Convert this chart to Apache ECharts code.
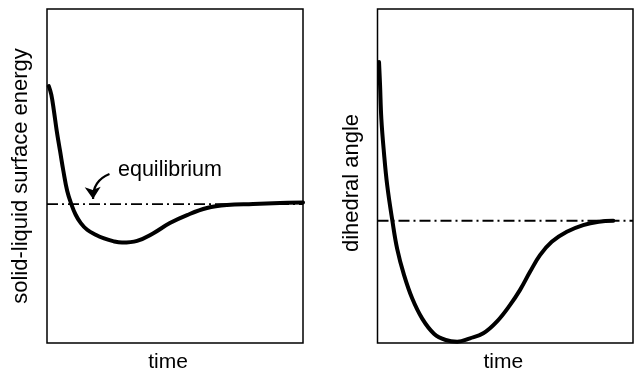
<!DOCTYPE html>
<html>
<head>
<meta charset="utf-8">
<script src="https://cdn.jsdelivr.net/npm/echarts@6/dist/echarts.min.js"></script>
<style>html,body{margin:0;padding:0;background:#fff}#c{width:635px;height:372px}</style>
</head>
<body>
<div id="c"></div>
<script>
// Left panel: solid-liquid surface energy vs time
const leftTime = [0.7,1.7,2.7,3.8,5.1,6.4,7.9,9.5,11.2,13.2,15.7,19.0,22.3,25.8,29.3,35.2,41.4,48.0,54.7,62.5,70.3,80.5,91.0,100];
const leftEnergy = [76.9,74.3,69.5,63.5,57.5,51.5,45.5,41.6,38.4,35.9,33.9,32.4,31.3,30.5,30.1,30.6,32.8,35.9,38.3,40.4,41.3,41.6,41.9,42.1];
const leftEquilibrium = 41.6;

// Right panel: dihedral angle vs time
const rightTime = [0.6,1.0,1.5,2.5,3.8,5.8,7.7,10.4,13.6,17.5,22.1,26.7,31.2,36.2,41.4,46.7,51.9,55.8,59.7,63.6,68.2,74.1,80.5,86.6,92.3];
const rightAngle = [84.1,77.2,67.2,57.2,47.2,36.7,28.2,20.3,13.3,7.3,2.8,0.9,0.4,1.4,2.9,6.4,11.4,15.9,21.3,26.3,30.3,33.3,35.3,36.3,36.6];
const rightEquilibrium = 36.6;

// Annotation arrow (data coords, left panel)
const arrowFrom = [24.4, 50.6];
const arrowTo = [18.0, 43.1];

const FONT = 'Liberation Sans, Arial, sans-serif';
const zip = (a, b) => a.map((v, i) => [v, b[i]]);

function xAx(gi, name, pad) {
  return {type:'value', gridIndex:gi, min:0, max:100, name:name, nameLocation:'middle', nameGap:9,
    nameTextStyle:{fontSize:21, fontFamily:FONT, color:'#000', verticalAlign:'top', padding:pad},
    axisLine:{show:false}, axisTick:{show:false}, axisLabel:{show:false}, splitLine:{show:false}};
}
function yAx(gi, name, pad) {
  return {type:'value', gridIndex:gi, min:0, max:100, name:name, nameLocation:'middle', nameGap:15,
    nameTextStyle:{fontSize:22, fontFamily:FONT, color:'#000', padding:pad},
    axisLine:{show:false}, axisTick:{show:false}, axisLabel:{show:false}, splitLine:{show:false}};
}
const dashDot = [11,4,2,4];

const chart = echarts.init(document.getElementById('c'), null, {renderer:'canvas'});
chart.setOption({
  animation:false,
  grid:[
    {left:47, top:9, width:256, height:334, show:true, borderColor:'#000', borderWidth:1.5, backgroundColor:'transparent', outerBoundsMode:'none', containLabel:false},
    {left:377.5, top:9, width:255.5, height:334, show:true, borderColor:'#000', borderWidth:1.5, backgroundColor:'transparent', outerBoundsMode:'none', containLabel:false}
  ],
  xAxis:[xAx(0,'time',[0,14,0,0]), xAx(1,'time',[0,4,0,0])],
  yAxis:[yAx(0,'solid-liquid surface energy',[0,0,0,0]), yAx(1,'dihedral angle',[0,14,0,0])],
  series:[
    {type:'line', xAxisIndex:0, yAxisIndex:0, data:[[0,leftEquilibrium],[100,leftEquilibrium]], showSymbol:false, symbol:'none',
      lineStyle:{color:'#000', width:1.8, type:dashDot}, z:1},
    {type:'line', xAxisIndex:0, yAxisIndex:0, data:zip(leftTime,leftEnergy), smooth:0.4, symbol:'none', clip:false,
      lineStyle:{color:'#000', width:4, cap:'round', join:'round'}, z:2},
    {type:'line', xAxisIndex:1, yAxisIndex:1, data:[[0,rightEquilibrium],[100,rightEquilibrium]], showSymbol:false, symbol:'none',
      lineStyle:{color:'#000', width:1.8, type:dashDot}, z:1},
    {type:'line', xAxisIndex:1, yAxisIndex:1, data:zip(rightTime,rightAngle), smooth:0.4, symbol:'none', clip:false,
      lineStyle:{color:'#000', width:4, cap:'round', join:'round'}, z:2},
    {type:'lines', coordinateSystem:'cartesian2d', xAxisIndex:0, yAxisIndex:0, symbol:['none','arrow'], symbolSize:12,
      lineStyle:{color:'#000', width:2.2, curveness:-0.35, opacity:1},
      data:[{coords:[arrowFrom, arrowTo]}], z:3}
  ],
  graphic:[
    {type:'text', left:118, top:159, style:{text:'equilibrium', fontSize:21.5, fontFamily:FONT, fill:'#000'}}
  ]
});
</script>
</body>
</html>
